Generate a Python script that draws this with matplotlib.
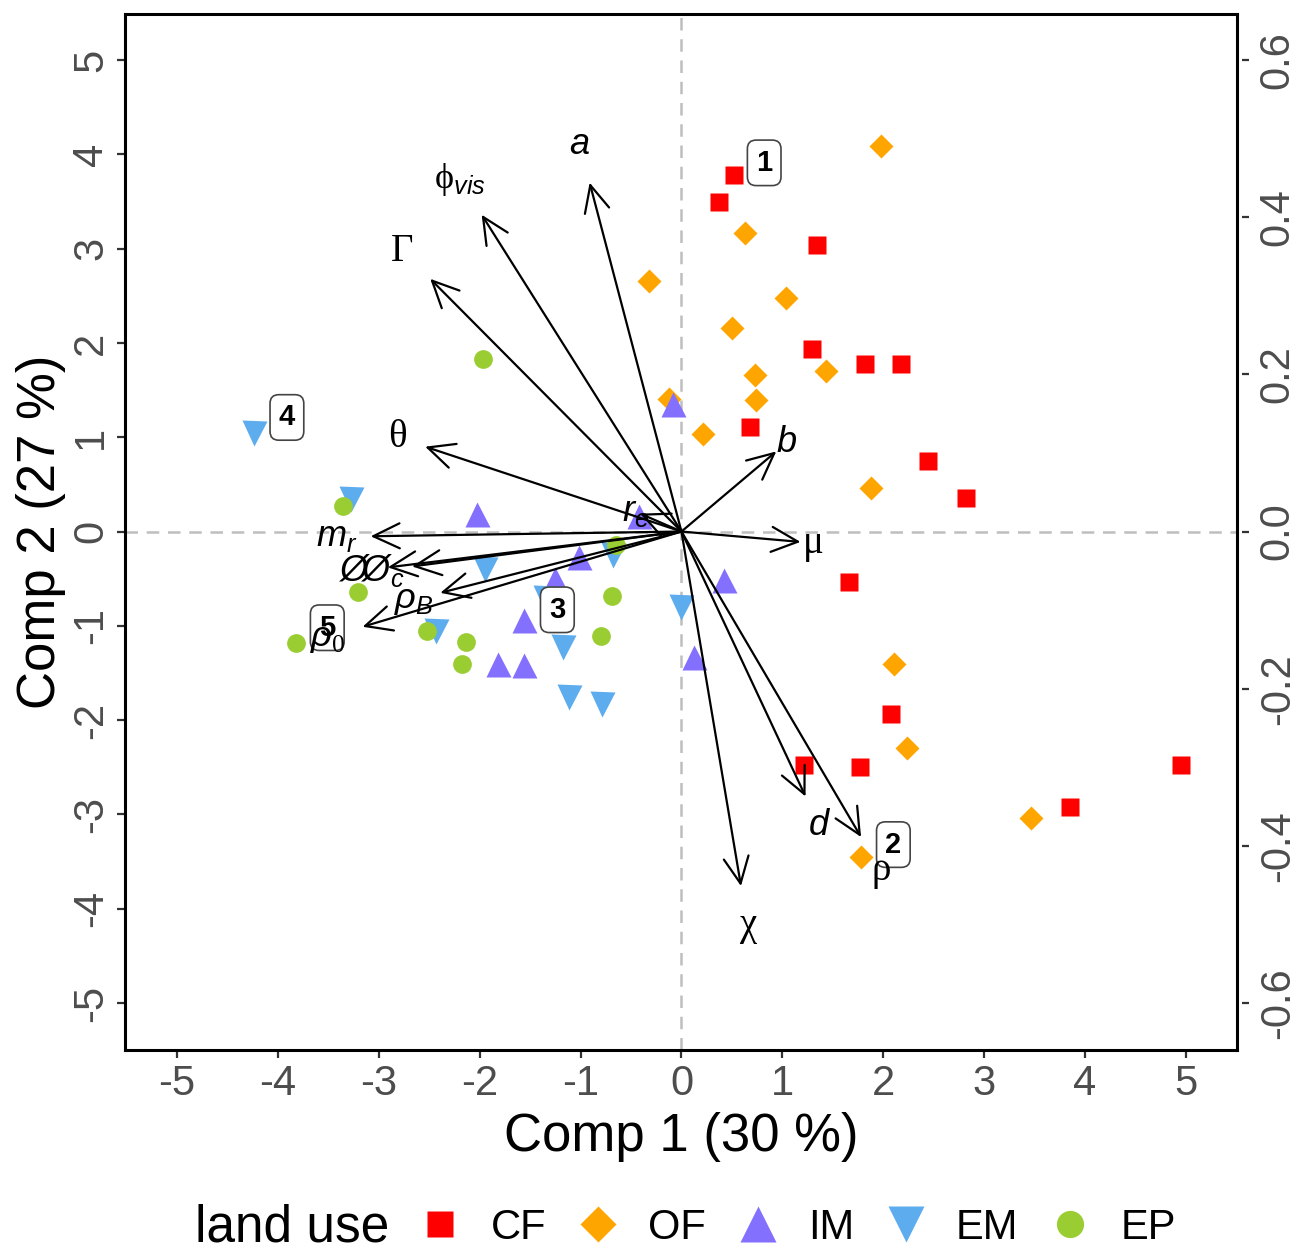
import matplotlib.pyplot as plt
from matplotlib.patches import FancyArrowPatch
import numpy as np

plt.rcParams["font.family"] = "Liberation Sans"
plt.rcParams["axes.unicode_minus"] = False
plt.rcParams["mathtext.fontset"] = "custom"
plt.rcParams["mathtext.rm"] = "Liberation Serif"
plt.rcParams["mathtext.it"] = "Liberation Sans:italic"
plt.rcParams["mathtext.bf"] = "Liberation Sans:bold"

# ------------------------------------------------
# DATA  (PCA scores per land use, Comp 1 / Comp 2)
# ------------------------------------------------

cf_x = [0.52, 0.37, 1.34, 1.29, 1.82, 2.18, 0.68, 2.44, 2.82, 1.66, 2.08, 1.21, 1.77, 4.95, 3.85]
cf_y = [3.78, 3.49, 3.04, 1.94, 1.78, 1.78, 1.11, 0.75, 0.36, -0.54, -1.94, -2.48, -2.50, -2.48, -2.92]

of_x = [1.98, 0.63, -0.32, 1.04, 0.50, 0.73, 1.43, -0.12, 0.74, 0.21, 1.88, 2.11, 2.24, 3.46, 1.78]
of_y = [4.09, 3.17, 2.66, 2.48, 2.16, 1.66, 1.70, 1.41, 1.39, 1.03, 0.46, -1.41, -2.30, -3.04, -3.45]

im_x = [-0.08, -2.03, -0.42, -1.02, -1.25, 0.42, -1.56, -1.82, -1.56, 0.12]
im_y = [1.35, 0.19, 0.16, -0.27, -0.50, -0.51, -0.94, -1.40, -1.42, -1.33]

em_x = [-4.24, -3.27, -0.68, -1.95, 0.00, -2.43, -1.17, -1.11, -0.79, -1.35]
em_y = [1.05, 0.34, -0.25, -0.40, -0.80, -1.05, -1.22, -1.75, -1.83, -0.70]

ep_x = [-1.97, -3.35, -0.65, -3.21, -0.69, -2.52, -3.82, -2.14, -0.80, -2.17]
ep_y = [1.83, 0.27, -0.14, -0.64, -0.68, -1.06, -1.18, -1.17, -1.11, -1.41]

# variable loadings (arrow tips, primary axis units)
var_names = ["a", r"$\mathrm{\phi}_{vis}$", "Γ", "θ", r"$r_e$", r"$b$", "μ",
             r"$m_r$", r"$\O$", r"$\O_c$", r"$\rho_B$", r"$\rho_0$", r"$d$", "ρ", "χ"]
var_x = [-0.91, -1.98, -2.49, -2.54, -0.41, 0.94, 1.18,
         -3.08, -2.91, -2.67, -2.39, -3.16, 1.23, 1.78, 0.59]
var_y = [3.70, 3.36, 2.68, 0.90, 0.19, 0.85, -0.11,
         -0.05, -0.38, -0.37, -0.65, -1.01, -2.81, -3.24, -3.76]
serif_names = ["Γ", "θ", "μ", "ρ", "χ"]
label_adjust = 1.11

# numbered sample ids
id_labels = ["1", "2", "3", "4", "5"]
id_x = [0.82, 2.10, -1.23, -3.91, -3.51]
id_y = [3.91, -3.32, -0.83, 1.21, -1.02]

groups = ["CF", "OF", "IM", "EM", "EP"]
colors = ["#FF0000", "#FFA500", "#8470FF", "#5CACEE", "#9ACD32"]
markers = ["s", "D", "^", "v", "o"]
sizes = [13, 12.5, 18, 18, 13.5]

right_scale = 0.12  # secondary axis = primary * 0.12

# ------------------------------------------------
# PLOT
# ------------------------------------------------

fig = plt.figure(figsize=(13.03, 12.54), dpi=100)
ax = fig.add_axes([0.0959, 0.1627, 0.8534, 0.8261])

xlim = (-5.515, 5.505)
ylim = (-5.498, 5.488)
ax.set_xlim(xlim)
ax.set_ylim(ylim)

ax.axhline(0, color="#BEBEBE", lw=1.8, ls=(0, (5, 3.5)), zorder=1)
ax.axvline(0, color="#BEBEBE", lw=1.8, ls=(0, (5, 3.5)), zorder=1)

handles = []
for gx, gy, c, m, s, g in zip([cf_x, of_x, im_x, em_x, ep_x],
                              [cf_y, of_y, im_y, em_y, ep_y],
                              colors, markers, sizes, groups):
    h, = ax.plot(gx, gy, ls="none", marker=m, ms=s, color=c, mec="none", label=g, zorder=2)
    handles.append(h)

for name, vx, vy in zip(var_names, var_x, var_y):
    arr = FancyArrowPatch((0, 0), (vx, vy), arrowstyle="->,head_length=0.95,head_width=0.45",
                          mutation_scale=20, lw=1.6, color="black",
                          shrinkA=0, shrinkB=0, zorder=3)
    ax.add_patch(arr)
    if name in serif_names:
        ax.text(vx * label_adjust, vy * label_adjust, name, fontsize=28,
                family="Liberation Serif", ha="center", va="center", zorder=6)
    else:
        ax.text(vx * label_adjust, vy * label_adjust, name, fontsize=26,
                style="italic" if name == "a" else "normal",
                ha="center", va="center", zorder=6)

for lab, lx, ly in zip(id_labels, id_x, id_y):
    ax.text(lx, ly, lab, fontsize=21, fontweight="bold", ha="center", va="center", zorder=5,
            bbox=dict(boxstyle="round,pad=0.3,rounding_size=0.3", fc="white", ec="#444444", lw=1.2))

ax.set_xticks(np.arange(-5, 6, 1))
ax.set_yticks(np.arange(-5, 6, 1))
ax.tick_params(axis="both", labelsize=30, labelcolor="#4D4D4D", color="#333333",
               length=6, width=1.6, pad=4)
ax.tick_params(axis="y", labelrotation=90)
for lab in ax.get_yticklabels():
    lab.set_va("center")
for sp in ax.spines.values():
    sp.set_linewidth(2.2)

ax.set_xlabel("Comp 1 (30 %)", fontsize=38, labelpad=6)
ax.set_ylabel("Comp 2 (27 %)", fontsize=38, labelpad=4)

ax2 = ax.twinx()
ax2.set_ylim(ylim[0] * right_scale, ylim[1] * right_scale)
ax2.set_yticks(np.round(np.arange(-0.6, 0.61, 0.2), 1))
ax2.spines["right"].set_position(("outward", 4))
for sp in ax2.spines.values():
    sp.set_visible(False)
ax2.tick_params(axis="y", labelsize=30, labelcolor="#4D4D4D", color="#333333",
                length=5, width=1.6, pad=6, labelrotation=90)
for lab in ax2.get_yticklabels():
    lab.set_va("center")

fig.text(0.15, 0.0207, "land use", fontsize=37, va="center", ha="left")
fig.legend(handles=handles, labels=groups, loc="center left", bbox_to_anchor=(0.322, 0.0207),
           ncol=5, frameon=False, fontsize=30, markerscale=1.45, handlelength=1.0,
           handletextpad=0.7, columnspacing=0.75, borderpad=0, borderaxespad=0)

fig.savefig("out.png", dpi=100)
